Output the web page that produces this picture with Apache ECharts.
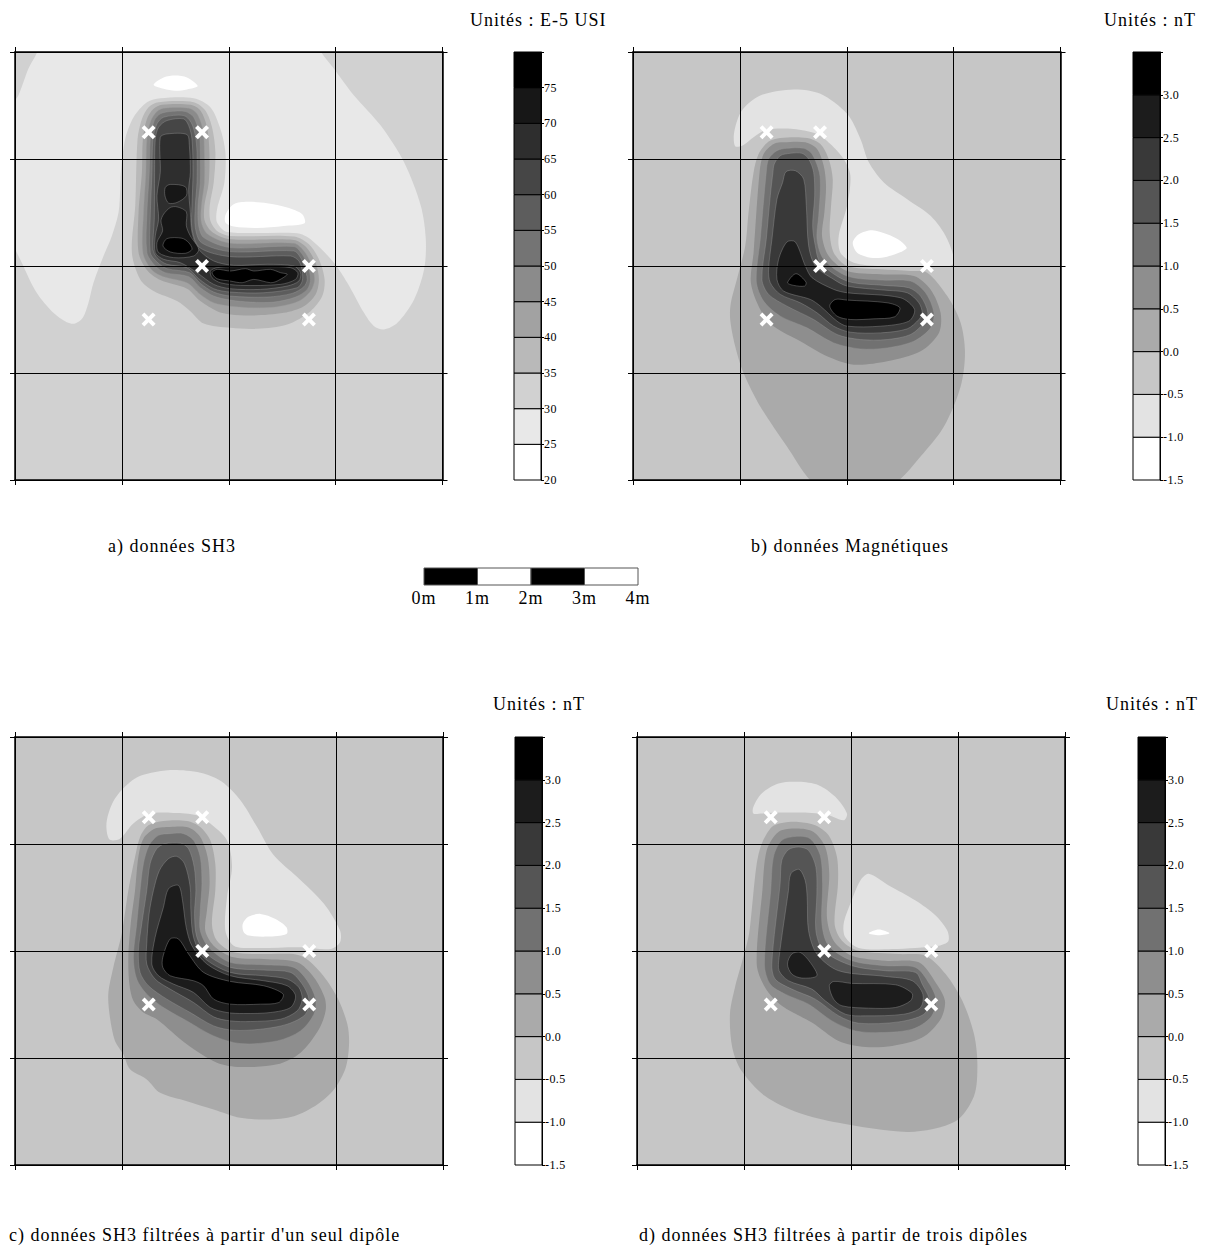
<!DOCTYPE html>
<html>
<head>
<meta charset="utf-8">
<script src="https://cdn.jsdelivr.net/npm/echarts@6/dist/echarts.min.js"></script>
<style>
html,body{margin:0;padding:0;background:#fff}
#c{width:1206px;height:1249px}
#c svg text{letter-spacing:1px}
#c svg text[style*="12px"]{letter-spacing:.4px}
</style>
</head>
<body>
<div id="c"></div>
<script>
// Survey grid: 8 m x 8 m, 160 grid units per metre. Contour outlines are in grid units.
const dipoleCrosses = [[400,1040],[560,1040],[560,640],[880,640],[400,480],[880,480]];

const bandsSusc = [20,25,30,35,40,45,50,55,60,65,70,75,80];
const bandsMag = [-1.5,-1,-0.5,0,0.5,1,1.5,2,2.5,3,3.5];
const greysSusc = ['#ffffff','#e8e8e8','#d1d1d1','#b9b9b9','#a2a2a2','#8b8b8b','#747474','#5d5d5d','#464646','#2e2e2e','#171717','#000000'];
const greysMag = ['#ffffff','#e3e3e3','#c6c6c6','#aaaaaa','#8e8e8e','#717171','#555555','#393939','#1c1c1c','#000000'];

const scaleMetres = [0,1,2,3,4];
const scaleGreys = ['#000000','#ffffff','#000000','#ffffff'];

const unitsTexts = ['Unités : E-5 USI','Unités : nT','Unités : nT','Unités : nT'];
const captionTexts = ['a) données SH3','b) données Magnétiques',"c) données SH3 filtrées à partir d'un seul dipôle",'d) données SH3 filtrées à partir de trois dipôles'];

// Panel a
const aLight = [[70,1290],[40,1230],[10,1150],[-15,1110],[-15,740],[25,640],[65,560],[115,500],[155,472],[180,468],[203,485],[220,530],[235,590],[265,670],[290,730],[310,800],[315,870],[317,920],[330,1020],[355,1085],[395,1130],[435,1142],[535,1142],[585,1115],[615,1050],[630,980],[627,890],[605,810],[605,770],[635,742],[845,738],[885,720],[955,650],[995,590],[1045,500],[1075,460],[1105,450],[1145,470],[1195,540],[1225,630],[1230,720],[1215,820],[1165,950],[1095,1060],[1015,1150],[955,1230],[915,1282],[900,1320],[500,1330],[60,1320]];
const aWhite1 = [[415,1182],[445,1204],[480,1210],[515,1204],[547,1178],[515,1168],[480,1164],[445,1170]];
const aWhite2 = [[631,795],[655,825],[695,832],[755,828],[815,815],[860,795],[867,768],[805,760],[725,754],[655,758],[630,770]];
const a35 = [[367,1020],[380,1080],[400,1115],[430,1130],[535,1130],[570,1105],[590,1055],[600,980],[595,890],[583,820],[585,775],[605,745],[645,730],[835,728],[880,705],[910,660],[927,600],[920,550],[885,505],[815,465],[725,452],[645,455],[565,468],[525,505],[485,535],[415,565],[375,600],[350,680],[360,820]];
const a40 = [[380,920],[383,1020],[395,1080],[415,1110],[440,1122],[525,1122],[555,1105],[575,1055],[582,980],[580,890],[567,820],[568,775],[590,742],[645,720],[835,718],[870,698],[900,650],[910,600],[900,555],[865,520],[805,500],[715,492],[645,495],[605,505],[555,535],[515,572],[435,598],[395,628],[370,680],[370,800]];
const a45 = [[392,920],[395,1020],[407,1075],[425,1102],[445,1112],[520,1112],[545,1095],[563,1045],[567,980],[567,890],[558,820],[558,770],[577,735],[645,708],[835,708],[865,685],[887,645],[897,600],[885,565],[850,535],[785,518],[715,515],[645,520],[595,530],[555,555],[515,590],[445,608],[410,628],[383,680],[385,800]];
const a50 = [[402,920],[405,1020],[417,1075],[435,1095],[465,1102],[510,1102],[535,1085],[552,1035],[555,980],[555,890],[548,820],[550,760],[565,725],[645,695],[835,698],[860,675],[877,640],[885,600],[875,570],[840,547],[775,532],[705,532],[645,538],[595,550],[555,575],[520,608],[450,620],[420,640],[395,680],[395,800]];
const a55 = [[410,920],[413,1020],[425,1065],[445,1085],[505,1090],[527,1070],[540,1030],[545,980],[545,890],[540,820],[540,755],[558,710],[645,683],[835,685],[855,665],[867,635],[875,600],[865,578],[830,558],[755,547],[645,550],[595,562],[555,588],[523,620],[455,632],[425,652],[405,680],[405,790]];
const a60 = [[418,920],[420,1020],[430,1055],[455,1075],[505,1080],[520,1060],[530,1020],[533,920],[530,820],[530,750],[553,695],[645,668],[825,670],[850,655],[860,625],[860,595],[845,575],[745,560],[645,562],[595,572],[550,602],[515,635],[455,645],[425,665],[413,690],[417,780]];
const a65 = [[435,1025],[455,1035],[515,1033],[522,1000],[525,920],[520,870],[525,800],[530,740],[550,690],[595,655],[655,642],[755,645],[835,640],[855,620],[850,595],[815,580],[735,570],[645,572],[595,585],[545,620],[495,650],[445,660],[420,680],[420,730],[430,780],[425,850],[435,920]];
const a70Upper = [[450,875],[465,884],[510,877],[513,850],[485,830],[460,828],[449,850]];
const a70Elbow = [[445,795],[465,815],[485,817],[513,802],[513,760],[525,730],[550,690],[535,670],[475,665],[430,680],[425,710],[442,745],[437,775]];
const a70Arm = [[585,625],[605,635],[655,638],[755,638],[825,635],[847,620],[840,600],[795,585],[675,582],[615,590],[590,605]];
const a75Elbow = [[443,700],[455,722],[500,723],[520,710],[530,690],[510,678],[465,682]];
const a75Arm = [[590,620],[605,630],[645,625],[690,632],[715,625],[765,630],[795,620],[815,615],[785,595],[765,590],[715,600],[680,590],[645,595],[605,602]];

// Panel b
const bLight = [[306,998],[303,1040],[326,1105],[381,1150],[481,1168],[561,1155],[641,1095],[681,1020],[706,950],[751,890],[821,840],[891,790],[941,720],[958,645],[861,640],[741,640],[661,650],[621,680],[616,730],[641,820],[651,910],[631,960],[591,1005],[551,1035],[481,1050],[401,1048],[361,1025],[331,1002]];
const bWhite = [[658,710],[676,735],[716,747],[761,735],[801,715],[819,692],[761,668],[711,665],[671,680]];
const b00 = [[376,975],[406,1012],[441,1023],[521,1023],[561,1005],[586,960],[598,900],[593,820],[589,740],[601,680],[641,640],[741,630],[831,625],[881,620],[941,550],[981,470],[994,380],[981,280],[931,160],[861,70],[785,-10],[700,-40],[620,-40],[540,-10],[461,100],[381,220],[331,320],[306,400],[291,480],[293,530],[311,600],[336,700],[346,800],[361,920]];
const b05 = [[379,920],[391,975],[421,1005],[451,1010],[516,1010],[551,990],[571,940],[578,880],[573,800],[566,730],[586,670],[641,625],[741,615],[841,610],[891,570],[921,500],[916,440],[861,385],[761,355],[661,345],[581,370],[501,415],[421,460],[381,510],[353,590],[361,680]];
const b10 = [[399,920],[406,960],[431,985],[461,992],[511,992],[536,975],[558,920],[561,870],[556,790],[551,720],[571,660],[641,610],[741,598],[831,595],[876,560],[901,500],[891,455],[841,415],[761,395],[681,392],[601,410],[521,455],[441,490],[391,535],[369,595],[381,720]];
const b15 = [[419,920],[423,945],[441,970],[471,977],[506,977],[526,960],[541,920],[544,850],[538,760],[546,700],[561,650],[641,595],[751,582],[826,575],[861,550],[883,500],[871,470],[831,435],[761,420],[681,420],[611,435],[541,480],[461,520],[406,555],[386,600],[399,720],[411,850]];
const b20 = [[448,890],[458,922],[486,925],[511,900],[519,820],[526,700],[546,640],[601,600],[641,580],[751,568],[821,560],[856,530],[866,500],[856,480],[821,452],[741,440],[651,442],[601,460],[551,500],[501,530],[441,555],[411,590],[406,630],[416,720],[431,840]];
const b25 = [[461,712],[486,712],[516,640],[536,605],[601,570],[641,560],[801,545],[843,510],[826,475],[741,460],[641,460],[611,475],[561,520],[531,540],[451,565],[431,600],[436,660]];
const b30Elbow = [[463,590],[488,617],[518,592],[514,580],[481,582]];
const b30Arm = [[589,520],[606,540],[641,538],[761,530],[799,515],[783,488],[721,482],[651,480],[611,490]];

// Panel c
const cLight = [[282,974],[274,1026],[299,1096],[359,1156],[424,1176],[484,1181],[564,1171],[619,1146],[674,1091],[724,1011],[774,926],[844,861],[924,781],[972,701],[972,666],[944,646],[854,651],[714,649],[654,656],[629,701],[634,801],[649,891],[634,971],[584,1021],[544,1046],[474,1053],[404,1051],[354,1021],[314,976]];
const cWhite = [[681,721],[699,743],[734,751],[779,736],[812,711],[812,691],[754,683],[699,686],[684,696]];
const c00 = [[359,921],[374,981],[399,1016],[444,1029],[514,1029],[554,1011],[584,971],[599,901],[599,821],[589,721],[604,671],[654,636],[754,631],[854,626],[914,576],[964,501],[994,421],[999,361],[989,291],[954,226],[904,181],[834,146],[754,136],[674,141],[594,166],[514,191],[434,216],[394,256],[344,286],[324,331],[299,371],[284,441],[279,511],[294,591],[319,691],[339,821]];
const c05 = [[359,821],[369,921],[384,976],[419,1006],[464,1011],[519,1009],[554,981],[576,921],[582,841],[574,761],[569,701],[594,656],[654,621],[744,616],[844,606],[894,561],[926,501],[929,461],[909,406],[854,336],[784,301],[674,293],[604,306],[514,361],[424,436],[384,456],[354,491],[342,541],[339,621],[346,721]];
const c10 = [[374,821],[384,901],[401,956],[429,986],[464,991],[504,991],[534,971],[554,921],[559,841],[554,761],[554,701],[579,651],[644,606],[744,599],[834,591],[874,551],[899,496],[894,451],[854,401],[784,371],[674,363],[594,386],[514,431],[444,471],[394,511],[364,556],[354,621],[364,721]];
const c15 = [[394,821],[404,901],[424,946],[449,961],[494,963],[519,946],[536,891],[541,821],[537,751],[544,681],[574,631],[644,591],[744,583],[824,576],[859,541],[879,496],[869,451],[814,421],[734,406],[654,403],[594,416],[524,456],[454,496],[399,536],[374,576],[369,641],[379,721]];
const c20 = [[414,821],[432,881],[459,916],[484,923],[507,901],[524,831],[526,761],[534,681],[564,621],[644,576],[744,566],[814,556],[849,531],[859,496],[844,461],[794,436],[704,429],[644,431],[594,443],[534,486],[464,526],[419,556],[394,601],[394,661],[401,751]];
const c25 = [[459,826],[489,836],[501,791],[512,711],[529,656],[574,601],[644,566],[744,551],[814,536],[839,506],[824,471],[764,456],[684,453],[634,456],[584,471],[534,516],[474,541],[429,566],[409,601],[419,681],[444,771]];
const c30 = [[464,676],[489,676],[519,631],[564,576],[644,549],[744,536],[802,511],[789,486],[734,481],[644,481],[594,496],[564,536],[534,551],[464,566],[442,591],[442,621]];

// Panel d
const dLightTop = [[348,1051],[348,1071],[373,1111],[423,1141],[483,1146],[543,1136],[593,1101],[628,1051],[618,1031],[563,1049],[483,1054],[413,1054],[373,1051]];
const dLightMid = [[668,851],[693,871],[753,836],[833,791],[893,746],[928,701],[931,669],[903,656],[763,646],[663,649],[623,681],[618,721],[638,781]];
const dWhite = [[693,693],[723,704],[755,693],[723,687]];
const d00 = [[433,1023],[483,1026],[533,1016],[573,986],[598,921],[601,841],[591,721],[613,671],[663,641],[783,631],[863,626],[923,571],[973,491],[1008,391],[1018,301],[1008,206],[953,131],[813,99],[603,126],[483,156],[383,206],[313,281],[285,351],[278,451],[293,531],[318,621],[335,691],[343,761],[358,901],[373,961],[403,1011]];
const d05 = [[358,601],[375,821],[388,941],[423,996],[478,1006],[528,996],[563,951],[575,871],[568,741],[588,671],[643,626],[743,611],[843,606],[893,546],[921,491],[908,436],[853,381],[763,356],[683,353],[603,371],[523,426],[433,476],[383,531]];
const d10 = [[381,601],[400,821],[408,921],[433,971],[478,983],[518,976],[548,926],[555,841],[553,721],[573,656],[643,611],[743,596],[833,591],[875,541],[895,491],[878,441],[823,406],[733,396],[653,401],[583,431],[513,481],[443,511],[398,541]];
const d15 = [[403,601],[428,841],[433,911],[453,943],[483,951],[513,941],[535,891],[538,811],[535,701],[558,641],[643,596],[743,581],[833,576],[853,541],[875,491],[858,451],[783,428],[663,424],[603,446],[533,496],[463,526],[413,556]];
const d20 = [[425,621],[453,821],[460,871],[485,884],[503,851],[509,801],[513,701],[538,631],[603,581],[743,564],[823,551],[855,511],[848,471],[798,451],[683,446],[623,451],[563,491],[523,526],[453,551],[425,581]];
const d25Elbow = [[450,601],[463,631],[488,636],[518,606],[538,566],[493,559],[463,571]];
const d25Arm = [[575,536],[588,549],[643,543],[773,539],[823,513],[818,491],[773,471],[693,469],[613,476],[588,496]];

// Painting order per panel: [outline, grey band index]
const layersA = [[aLight,1],[aWhite1,0],[aWhite2,0],[a35,3],[a40,4],[a45,5],[a50,6],[a55,7],[a60,8],[a65,9],[a70Upper,10],[a70Elbow,10],[a70Arm,10],[a75Elbow,11],[a75Arm,11]];
const layersB = [[bLight,1],[bWhite,0],[b00,3],[b05,4],[b10,5],[b15,6],[b20,7],[b25,8],[b30Elbow,9],[b30Arm,9]];
const layersC = [[cLight,1],[cWhite,0],[c00,3],[c05,4],[c10,5],[c15,6],[c20,7],[c25,8],[c30,9]];
const layersD = [[dLightTop,1],[dLightMid,1],[dWhite,0],[d00,3],[d05,4],[d10,5],[d15,6],[d20,7],[d25Elbow,8],[d25Arm,8]];

const FONT = '"Liberation Serif","Times New Roman",serif';
const grids = [], xAxes = [], yAxes = [], series = [], titles = [];

function mapPanel(box, layers, greys, baseIndex) {
  const g = grids.length;
  grids.push({left: box.left, top: box.top, width: box.width, height: 428, show: true, backgroundColor: greys[baseIndex], borderWidth: 0});
  const line = {show: true, onZero: false, lineStyle: {color: '#000', width: 1.5}};
  const tick = {show: true, length: 5, inside: false, lineStyle: {color: '#000', width: 1}};
  const common = {type: 'value', gridIndex: g, min: 0, max: 1280, interval: 320, z: 5, axisLine: line, axisTick: tick, axisLabel: {show: false}};
  const split = {show: true, lineStyle: {color: '#000', width: 1, type: 'solid'}};
  const xi = xAxes.length, yi = yAxes.length;
  xAxes.push(Object.assign({}, common, {position: 'bottom', splitLine: split}));
  xAxes.push(Object.assign({}, common, {position: 'top', splitLine: {show: false}}));
  yAxes.push(Object.assign({}, common, {position: 'left', splitLine: split}));
  yAxes.push(Object.assign({}, common, {position: 'right', splitLine: {show: false}}));
  series.push({
    type: 'custom', xAxisIndex: xi, yAxisIndex: yi, z: 1, clip: true, silent: true,
    data: layers.map((l, i) => i),
    renderItem: (params, api) => {
      const layer = layers[params.dataIndex];
      const pts = layer[0].map(p => api.coord(p));
      const band = layer[1];
      const edged = band >= 5;
      return {
        type: 'polygon', shape: {points: pts, smooth: 0.3},
        style: {fill: greys[band], stroke: edged ? '#9a9a9a' : greys[band], lineWidth: edged ? 0.4 : 0}
      };
    }
  });
  series.push({
    type: 'scatter', xAxisIndex: xi, yAxisIndex: yi, z: 10, silent: true,
    symbol: 'path://M4 0L10 6L16 0L20 4L14 10L20 16L16 20L10 14L4 20L0 16L6 10L0 4Z',
    symbolSize: 14, itemStyle: {color: '#fff', opacity: 1},
    data: dipoleCrosses
  });
}

function colourBar(box, bands, greys, fmt) {
  const g = grids.length;
  grids.push({left: box.left, top: box.top, width: 27, height: 428});
  const xi = xAxes.length, yi = yAxes.length;
  xAxes.push({type: 'value', gridIndex: g, min: 0, max: 1, show: false});
  yAxes.push({
    type: 'value', gridIndex: g, position: 'right', min: bands[0], max: bands[bands.length - 1], interval: bands[1] - bands[0],
    axisLine: {show: true, onZero: false, lineStyle: {color: '#000', width: 1}},
    axisTick: {show: true, length: 3, lineStyle: {color: '#000', width: 1}},
    splitLine: {show: false},
    axisLabel: {show: true, margin: 3, color: '#000', fontFamily: FONT, fontSize: 12,
      formatter: v => (v >= bands[bands.length - 1] - 1e-6 ? '' : fmt(v))}
  });
  series.push({
    type: 'custom', xAxisIndex: xi, yAxisIndex: yi, silent: true, z: 1,
    data: greys.map((c, i) => [bands[i], bands[i + 1]]),
    renderItem: (params, api) => {
      const a = api.coord([0, api.value(0)]), b = api.coord([1, api.value(1)]);
      return {type: 'rect', shape: {x: a[0], y: b[1], width: b[0] - a[0], height: a[1] - b[1]},
        style: {fill: greys[params.dataIndex], stroke: '#000', lineWidth: 1}};
    }
  });
}

function scaleBar() {
  const g = grids.length;
  grids.push({left: 424, top: 568, width: 214, height: 17});
  const xi = xAxes.length, yi = yAxes.length;
  xAxes.push({type: 'value', gridIndex: g, min: 0, max: 4, interval: 1, position: 'bottom',
    axisLine: {show: false}, axisTick: {show: false}, splitLine: {show: false},
    axisLabel: {show: true, margin: 4, color: '#000', fontFamily: FONT, fontSize: 18, formatter: '{value}m', showMinLabel: true, showMaxLabel: true}});
  yAxes.push({type: 'value', gridIndex: g, min: 0, max: 1, show: false});
  series.push({
    type: 'custom', xAxisIndex: xi, yAxisIndex: yi, silent: true, z: 1,
    data: scaleGreys.map((c, i) => [scaleMetres[i], scaleMetres[i + 1]]),
    renderItem: (params, api) => {
      const a = api.coord([api.value(0), 0]), b = api.coord([api.value(1), 1]);
      return {type: 'rect', shape: {x: a[0], y: b[1], width: b[0] - a[0], height: a[1] - b[1]},
        style: {fill: scaleGreys[params.dataIndex], stroke: '#555', lineWidth: 1}};
    }
  });
}

function label(text, left, top) {
  titles.push({text: text, left: left, top: top, padding: 0, textStyle: {color: '#000', fontFamily: FONT, fontSize: 18, fontWeight: 'normal'}});
}

mapPanel({left: 15, top: 52, width: 427.5}, layersA, greysSusc, 2);
mapPanel({left: 633, top: 52, width: 427.5}, layersB, greysMag, 2);
mapPanel({left: 15, top: 737, width: 428}, layersC, greysMag, 2);
mapPanel({left: 637, top: 737, width: 428}, layersD, greysMag, 2);

const fmtSusc = v => String(v), fmtMag = v => v.toFixed(1);
colourBar({left: 514, top: 52}, bandsSusc, greysSusc, fmtSusc);
colourBar({left: 1133, top: 52}, bandsMag, greysMag, fmtMag);
colourBar({left: 515, top: 737}, bandsMag, greysMag, fmtMag);
colourBar({left: 1138, top: 737}, bandsMag, greysMag, fmtMag);
scaleBar();

label(unitsTexts[0], 470, 11);
label(unitsTexts[1], 1104, 11);
label(unitsTexts[2], 493, 695);
label(unitsTexts[3], 1106, 695);
label(captionTexts[0], 108, 537);
label(captionTexts[1], 751, 537);
label(captionTexts[2], 9, 1226);
label(captionTexts[3], 639, 1226);

const chart = echarts.init(document.getElementById('c'), null, {renderer: 'svg'});
chart.setOption({animation: false, backgroundColor: '#fff', title: titles, grid: grids, xAxis: xAxes, yAxis: yAxes, series: series, tooltip: {show: false}});
</script>
</body>
</html>
